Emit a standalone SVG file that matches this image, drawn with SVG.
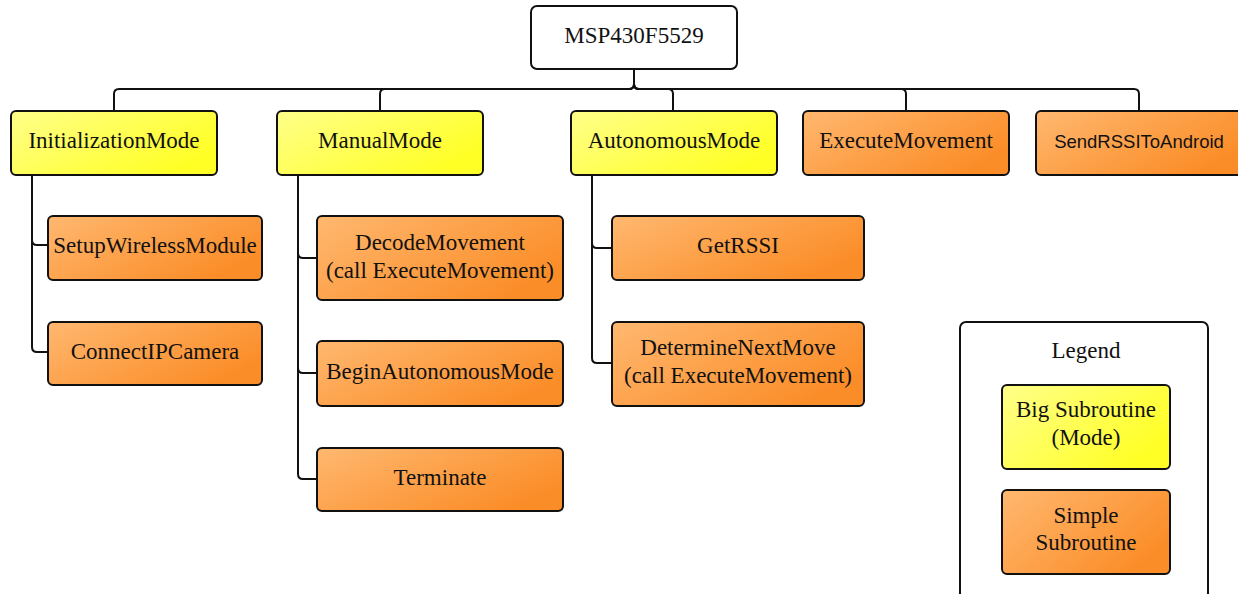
<svg xmlns="http://www.w3.org/2000/svg" width="1238" height="594" viewBox="0 0 1238 594">
<defs>
<linearGradient id="gy" x1="0" y1="0" x2="1" y2="0.6">
<stop offset="0" stop-color="#ffff8a"/>
<stop offset="1" stop-color="#ffff26"/>
</linearGradient>
<linearGradient id="go" x1="0" y1="0" x2="1" y2="0.6">
<stop offset="0" stop-color="#ffb870"/>
<stop offset="1" stop-color="#fb8d28"/>
</linearGradient>
<style>
.box{stroke:#111;stroke-width:2;}
.w{fill:#fff;}
.y{fill:url(#gy);}
.o{fill:url(#go);}
text{font-family:"Liberation Serif","Times New Roman",serif;font-size:23px;fill:#111;text-anchor:middle;dominant-baseline:central;}
.sans{font-family:"Liberation Sans",Arial,sans-serif;font-size:18.5px;}
.c{fill:none;stroke:#111;stroke-width:2;}
</style>
</defs>
<rect width="1238" height="594" fill="#fff"/>
<g id="connectors">
<path class="c" d="M634 69 V84 Q634 89 629 89 H119 Q114 89 114 94 V111"/>
<path class="c" d="M634 69 V84 Q634 89 629 89 H385 Q380 89 380 94 V111"/>
<path class="c" d="M634 69 V84 Q634 89 639 89 H668 Q673 89 673 94 V111"/>
<path class="c" d="M634 69 V84 Q634 89 639 89 H901 Q906 89 906 94 V111"/>
<path class="c" d="M634 69 V84 Q634 89 639 89 H1134 Q1139 89 1139 94 V111"/>
<path class="c" d="M32 175 V240 Q32 245 37 245 H48"/>
<path class="c" d="M32 175 V347 Q32 352 37 352 H48"/>
<path class="c" d="M298 175 V253 Q298 258 303 258 H317"/>
<path class="c" d="M298 175 V368 Q298 373 303 373 H317"/>
<path class="c" d="M298 175 V474 Q298 479 303 479 H317"/>
<path class="c" d="M592 175 V243 Q592 248 597 248 H612"/>
<path class="c" d="M592 175 V358 Q592 363 597 363 H612"/>
</g>
<g id="root"><rect class="box w" x="531" y="6" width="206" height="63" rx="6"/><text x="634" y="35">MSP430F5529</text></g>
<g id="initMode"><rect class="box y" x="11" y="111" width="206" height="64" rx="5"/><text x="114" y="140">InitializationMode</text></g>
<g id="manualMode"><rect class="box y" x="277" y="111" width="206" height="64" rx="5"/><text x="380" y="140">ManualMode</text></g>
<g id="autoMode"><rect class="box y" x="571" y="111" width="206" height="64" rx="5"/><text x="674" y="140">AutonomousMode</text></g>
<g id="execMove"><rect class="box o" x="803" y="111" width="206" height="64" rx="5"/><text x="906" y="140">ExecuteMovement</text></g>
<g id="sendRSSI"><rect class="box o" x="1036" y="111" width="206" height="64" rx="5"/><text class="sans" x="1139" y="141">SendRSSIToAndroid</text></g>
<g id="setupWireless"><rect class="box o" x="48" y="216" width="214" height="64" rx="5"/><text x="155" y="245">SetupWirelessModule</text></g>
<g id="connectCam"><rect class="box o" x="48" y="322" width="214" height="63" rx="5"/><text x="155" y="351">ConnectIPCamera</text></g>
<g id="decodeMove"><rect class="box o" x="317" y="216" width="246" height="84" rx="5"/><text x="440" y="242">DecodeMovement</text><text x="440" y="270">(call ExecuteMovement)</text></g>
<g id="beginAuto"><rect class="box o" x="317" y="341" width="246" height="65" rx="5"/><text x="440" y="371">BeginAutonomousMode</text></g>
<g id="terminate"><rect class="box o" x="317" y="448" width="246" height="63" rx="5"/><text x="440" y="477">Terminate</text></g>
<g id="getRSSI"><rect class="box o" x="612" y="216" width="252" height="64" rx="5"/><text x="738" y="245">GetRSSI</text></g>
<g id="determineNext"><rect class="box o" x="612" y="322" width="252" height="84" rx="5"/><text x="738" y="347">DetermineNextMove</text><text x="738" y="375">(call ExecuteMovement)</text></g>
<g id="legend">
<rect class="box w" x="960" y="322" width="248" height="290" rx="6"/>
<text x="1086" y="350">Legend</text>
<rect class="box y" x="1002" y="385" width="168" height="84" rx="5"/>
<text x="1086" y="409">Big Subroutine</text><text x="1086" y="437">(Mode)</text>
<rect class="box o" x="1002" y="490" width="168" height="84" rx="5"/>
<text x="1086" y="515">Simple</text><text x="1086" y="542">Subroutine</text>
</g>
</svg>
